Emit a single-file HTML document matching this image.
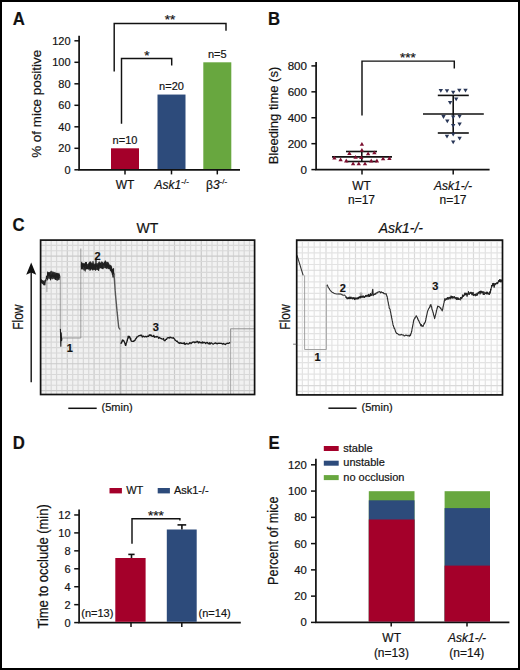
<!DOCTYPE html>
<html><head><meta charset="utf-8"><style>
html,body{margin:0;padding:0;background:#fff;}
svg{display:block;font-family:"Liberation Sans", sans-serif;}
text{stroke:#1a1a1a;stroke-width:0.2px;}
</style></head><body>
<svg width="520" height="670" viewBox="0 0 520 670">
<rect x="0" y="0" width="520" height="670" fill="#fff"/>
<text transform="translate(12.8,25.3) scale(0.93,1)" font-size="18" font-weight="bold" fill="#111">A</text>
<path d="M79.1,35.8 V169.8 H240" fill="none" stroke="#111" stroke-width="1.7" />
<line x1="74.4" y1="169.8" x2="79.1" y2="169.8" stroke="#111" stroke-width="1.5"/>
<text x="70.6" y="173.7" font-size="11" text-anchor="end" font-weight="normal" font-style="normal" fill="#111" >0</text>
<line x1="74.4" y1="148.3" x2="79.1" y2="148.3" stroke="#111" stroke-width="1.5"/>
<text x="70.6" y="152.2" font-size="11" text-anchor="end" font-weight="normal" font-style="normal" fill="#111" >20</text>
<line x1="74.4" y1="126.8" x2="79.1" y2="126.8" stroke="#111" stroke-width="1.5"/>
<text x="70.6" y="130.7" font-size="11" text-anchor="end" font-weight="normal" font-style="normal" fill="#111" >40</text>
<line x1="74.4" y1="105.3" x2="79.1" y2="105.3" stroke="#111" stroke-width="1.5"/>
<text x="70.6" y="109.2" font-size="11" text-anchor="end" font-weight="normal" font-style="normal" fill="#111" >60</text>
<line x1="74.4" y1="83.8" x2="79.1" y2="83.8" stroke="#111" stroke-width="1.5"/>
<text x="70.6" y="87.7" font-size="11" text-anchor="end" font-weight="normal" font-style="normal" fill="#111" >80</text>
<line x1="74.4" y1="62.3" x2="79.1" y2="62.3" stroke="#111" stroke-width="1.5"/>
<text x="70.6" y="66.2" font-size="11" text-anchor="end" font-weight="normal" font-style="normal" fill="#111" >100</text>
<line x1="74.4" y1="40.8" x2="79.1" y2="40.8" stroke="#111" stroke-width="1.5"/>
<text x="70.6" y="44.7" font-size="11" text-anchor="end" font-weight="normal" font-style="normal" fill="#111" >120</text>
<rect x="111" y="148.3" width="28" height="20.7" fill="#a4002a"/>
<line x1="125" y1="169.8" x2="125" y2="174.4" stroke="#111" stroke-width="1.5"/>
<text x="125" y="143.9" font-size="11" text-anchor="middle" font-weight="normal" font-style="normal" fill="#111" >n=10</text>
<rect x="157.5" y="94.55" width="28" height="74.45" fill="#2d4b7b"/>
<line x1="171.5" y1="169.8" x2="171.5" y2="174.4" stroke="#111" stroke-width="1.5"/>
<text x="171.5" y="90.15" font-size="11" text-anchor="middle" font-weight="normal" font-style="normal" fill="#111" >n=20</text>
<rect x="203.3" y="62.3" width="28" height="106.7" fill="#68a73f"/>
<line x1="217.3" y1="169.8" x2="217.3" y2="174.4" stroke="#111" stroke-width="1.5"/>
<text x="217.3" y="57.9" font-size="11" text-anchor="middle" font-weight="normal" font-style="normal" fill="#111" >n=5</text>
<text x="125" y="189.2" font-size="12" text-anchor="middle" font-weight="normal" font-style="normal" fill="#111" >WT</text>
<text x="154.6" y="189.3" font-size="12" text-anchor="start" font-weight="normal" font-style="italic" fill="#111" >Ask1<tspan font-size="8" dy="-5.5" font-style="normal">-/-</tspan></text>
<text x="206" y="189.3" font-size="12" text-anchor="start" font-weight="normal" font-style="normal" fill="#111" >β<tspan font-style="italic">3</tspan><tspan font-size="8" dy="-5.5">-/-</tspan></text>
<path d="M114.2,71.4 V23.4 H226 V30.8" fill="none" stroke="#111" stroke-width="1.45" />
<path d="M121.5,123.8 V58.5 H171.7 V65.5" fill="none" stroke="#111" stroke-width="1.45" />
<text x="170" y="24" font-size="13.5" text-anchor="middle" font-weight="normal" font-style="normal" fill="#111" >**</text>
<text x="146.8" y="59.5" font-size="13.5" text-anchor="middle" font-weight="normal" font-style="normal" fill="#111" >*</text>
<text transform="translate(41,103.8) rotate(-90)" font-size="13.4" text-anchor="middle" fill="#111">% of mice positive</text>
<text transform="translate(268,25.4) scale(0.93,1)" font-size="18" font-weight="bold" fill="#111">B</text>
<path d="M316.1,62.1 V169.6 H489.6" fill="none" stroke="#111" stroke-width="1.7" />
<line x1="311.4" y1="169.6" x2="316.1" y2="169.6" stroke="#111" stroke-width="1.5"/>
<text x="307" y="173.6" font-size="11.6" text-anchor="end" font-weight="normal" font-style="normal" fill="#111" >0</text>
<line x1="311.4" y1="143.68" x2="316.1" y2="143.68" stroke="#111" stroke-width="1.5"/>
<text x="307" y="147.68" font-size="11.6" text-anchor="end" font-weight="normal" font-style="normal" fill="#111" >200</text>
<line x1="311.4" y1="117.75" x2="316.1" y2="117.75" stroke="#111" stroke-width="1.5"/>
<text x="307" y="121.75" font-size="11.6" text-anchor="end" font-weight="normal" font-style="normal" fill="#111" >400</text>
<line x1="311.4" y1="91.83" x2="316.1" y2="91.83" stroke="#111" stroke-width="1.5"/>
<text x="307" y="95.83" font-size="11.6" text-anchor="end" font-weight="normal" font-style="normal" fill="#111" >600</text>
<line x1="311.4" y1="65.9" x2="316.1" y2="65.9" stroke="#111" stroke-width="1.5"/>
<text x="307" y="69.9" font-size="11.6" text-anchor="end" font-weight="normal" font-style="normal" fill="#111" >800</text>
<line x1="362" y1="169.6" x2="362" y2="174.5" stroke="#111" stroke-width="1.5"/>
<line x1="453.2" y1="169.6" x2="453.2" y2="174.5" stroke="#111" stroke-width="1.5"/>
<text x="361.5" y="189.5" font-size="12" text-anchor="middle" font-weight="normal" font-style="normal" fill="#111" >WT</text>
<text x="361.5" y="203.5" font-size="12" text-anchor="middle" font-weight="normal" font-style="normal" fill="#111" >n=17</text>
<text x="453" y="189.5" font-size="12" text-anchor="middle" font-weight="normal" font-style="italic" fill="#111" >Ask1-/-</text>
<text x="453" y="203.5" font-size="12" text-anchor="middle" font-weight="normal" font-style="normal" fill="#111" >n=17</text>
<path d="M362,115.5 V61.1 H454.3 V68.5" fill="none" stroke="#111" stroke-width="1.45" />
<text x="408" y="62" font-size="13.5" text-anchor="middle" font-weight="normal" font-style="normal" fill="#111" >***</text>
<text transform="translate(278.4,115.5) rotate(-90)" font-size="13" text-anchor="middle" fill="#111">Bleeding time (s)</text>
<line x1="332" y1="156.9" x2="392" y2="156.9" stroke="#111" stroke-width="1.6"/>
<line x1="346" y1="151.5" x2="377" y2="151.5" stroke="#111" stroke-width="1.6"/>
<line x1="346" y1="161.5" x2="377" y2="161.5" stroke="#111" stroke-width="1.6"/>
<line x1="361.8" y1="151.5" x2="361.8" y2="161.5" stroke="#111" stroke-width="1.6"/>
<polygon points="359.7,145.8 364.1,145.8 361.9,142" fill="#7c0f2f"/>
<polygon points="359.7,151.8 364.1,151.8 361.9,148" fill="#7c0f2f"/>
<polygon points="347.2,154.9 351.6,154.9 349.4,151.1" fill="#7c0f2f"/>
<polygon points="365.9,155.3 370.3,155.3 368.1,151.5" fill="#7c0f2f"/>
<polygon points="372.2,154.3 376.6,154.3 374.4,150.5" fill="#7c0f2f"/>
<polygon points="353.4,158.7 357.8,158.7 355.6,154.9" fill="#7c0f2f"/>
<polygon points="332.2,159.55 336.6,159.55 334.4,155.75" fill="#7c0f2f"/>
<polygon points="338.4,161.2 342.8,161.2 340.6,157.4" fill="#7c0f2f"/>
<polygon points="344.05,162.4 348.45,162.4 346.25,158.6" fill="#7c0f2f"/>
<polygon points="359.05,159.05 363.45,159.05 361.25,155.25" fill="#7c0f2f"/>
<polygon points="369.05,162.4 373.45,162.4 371.25,158.6" fill="#7c0f2f"/>
<polygon points="374.7,162.4 379.1,162.4 376.9,158.6" fill="#7c0f2f"/>
<polygon points="380.9,160.3 385.3,160.3 383.1,156.5" fill="#7c0f2f"/>
<polygon points="387.2,159.9 391.6,159.9 389.4,156.1" fill="#7c0f2f"/>
<polygon points="350.9,165.3 355.3,165.3 353.1,161.5" fill="#7c0f2f"/>
<polygon points="356.55,165.3 360.95,165.3 358.75,161.5" fill="#7c0f2f"/>
<polygon points="362.8,165.3 367.2,165.3 365,161.5" fill="#7c0f2f"/>
<line x1="453.2" y1="95.4" x2="453.2" y2="133" stroke="#111" stroke-width="1.6"/>
<line x1="437.8" y1="95.4" x2="468.8" y2="95.4" stroke="#111" stroke-width="1.6"/>
<line x1="437.8" y1="133" x2="468.8" y2="133" stroke="#111" stroke-width="1.6"/>
<line x1="423" y1="114" x2="483.8" y2="114" stroke="#111" stroke-width="1.6"/>
<polygon points="438.6,89 443,89 440.8,92.8" fill="#283657"/>
<polygon points="444.8,89.3 449.2,89.3 447,93.1" fill="#283657"/>
<polygon points="451,90.8 455.4,90.8 453.2,94.6" fill="#283657"/>
<polygon points="457.1,88.7 461.5,88.7 459.3,92.5" fill="#283657"/>
<polygon points="463.3,88.7 467.7,88.7 465.5,92.5" fill="#283657"/>
<polygon points="454,97.4 458.4,97.4 456.2,101.2" fill="#283657"/>
<polygon points="447.9,101 452.3,101 450.1,104.8" fill="#283657"/>
<polygon points="441.3,115.1 445.7,115.1 443.5,118.9" fill="#283657"/>
<polygon points="451,115.4 455.4,115.4 453.2,119.2" fill="#283657"/>
<polygon points="457.4,114.8 461.8,114.8 459.6,118.6" fill="#283657"/>
<polygon points="445.1,119.4 449.5,119.4 447.3,123.2" fill="#283657"/>
<polygon points="457.4,122.5 461.8,122.5 459.6,126.3" fill="#283657"/>
<polygon points="451,124 455.4,124 453.2,127.8" fill="#283657"/>
<polygon points="451,132.8 455.4,132.8 453.2,136.6" fill="#283657"/>
<polygon points="444.8,134.8 449.2,134.8 447,138.6" fill="#283657"/>
<polygon points="457.4,136.7 461.8,136.7 459.6,140.5" fill="#283657"/>
<polygon points="451,140.5 455.4,140.5 453.2,144.3" fill="#283657"/>
<text transform="translate(12.5,231.3) scale(0.93,1)" font-size="18" font-weight="bold" fill="#111">C</text>
<text x="147.4" y="232.6" font-size="14" text-anchor="middle" font-weight="normal" font-style="normal" fill="#111" >WT</text>
<text x="400.8" y="233" font-size="14" text-anchor="middle" font-weight="normal" font-style="italic" fill="#111" >Ask1-/-</text>
<clipPath id="c1"><rect x="40.5" y="240" width="214" height="154.5"/></clipPath>
<g clip-path="url(#c1)">
<rect x="40.5" y="240" width="214" height="154.5" fill="#f1f1f1"/>
<line x1="40.5" y1="240" x2="40.5" y2="394.5" stroke="#cacaca" stroke-width="1.2"/>
<line x1="45.86" y1="240" x2="45.86" y2="394.5" stroke="#d8d8d8" stroke-width="1.2"/>
<line x1="51.22" y1="240" x2="51.22" y2="394.5" stroke="#d8d8d8" stroke-width="1.2"/>
<line x1="56.58" y1="240" x2="56.58" y2="394.5" stroke="#d8d8d8" stroke-width="1.2"/>
<line x1="61.94" y1="240" x2="61.94" y2="394.5" stroke="#d8d8d8" stroke-width="1.2"/>
<line x1="67.3" y1="240" x2="67.3" y2="394.5" stroke="#cacaca" stroke-width="1.2"/>
<line x1="72.66" y1="240" x2="72.66" y2="394.5" stroke="#d8d8d8" stroke-width="1.2"/>
<line x1="78.02" y1="240" x2="78.02" y2="394.5" stroke="#d8d8d8" stroke-width="1.2"/>
<line x1="83.38" y1="240" x2="83.38" y2="394.5" stroke="#d8d8d8" stroke-width="1.2"/>
<line x1="88.74" y1="240" x2="88.74" y2="394.5" stroke="#d8d8d8" stroke-width="1.2"/>
<line x1="94.1" y1="240" x2="94.1" y2="394.5" stroke="#cacaca" stroke-width="1.2"/>
<line x1="99.46" y1="240" x2="99.46" y2="394.5" stroke="#d8d8d8" stroke-width="1.2"/>
<line x1="104.82" y1="240" x2="104.82" y2="394.5" stroke="#d8d8d8" stroke-width="1.2"/>
<line x1="110.18" y1="240" x2="110.18" y2="394.5" stroke="#d8d8d8" stroke-width="1.2"/>
<line x1="115.54" y1="240" x2="115.54" y2="394.5" stroke="#d8d8d8" stroke-width="1.2"/>
<line x1="120.9" y1="240" x2="120.9" y2="394.5" stroke="#cacaca" stroke-width="1.2"/>
<line x1="126.26" y1="240" x2="126.26" y2="394.5" stroke="#d8d8d8" stroke-width="1.2"/>
<line x1="131.62" y1="240" x2="131.62" y2="394.5" stroke="#d8d8d8" stroke-width="1.2"/>
<line x1="136.98" y1="240" x2="136.98" y2="394.5" stroke="#d8d8d8" stroke-width="1.2"/>
<line x1="142.34" y1="240" x2="142.34" y2="394.5" stroke="#d8d8d8" stroke-width="1.2"/>
<line x1="147.7" y1="240" x2="147.7" y2="394.5" stroke="#cacaca" stroke-width="1.2"/>
<line x1="153.06" y1="240" x2="153.06" y2="394.5" stroke="#d8d8d8" stroke-width="1.2"/>
<line x1="158.42" y1="240" x2="158.42" y2="394.5" stroke="#d8d8d8" stroke-width="1.2"/>
<line x1="163.78" y1="240" x2="163.78" y2="394.5" stroke="#d8d8d8" stroke-width="1.2"/>
<line x1="169.14" y1="240" x2="169.14" y2="394.5" stroke="#d8d8d8" stroke-width="1.2"/>
<line x1="174.5" y1="240" x2="174.5" y2="394.5" stroke="#cacaca" stroke-width="1.2"/>
<line x1="179.86" y1="240" x2="179.86" y2="394.5" stroke="#d8d8d8" stroke-width="1.2"/>
<line x1="185.22" y1="240" x2="185.22" y2="394.5" stroke="#d8d8d8" stroke-width="1.2"/>
<line x1="190.58" y1="240" x2="190.58" y2="394.5" stroke="#d8d8d8" stroke-width="1.2"/>
<line x1="195.94" y1="240" x2="195.94" y2="394.5" stroke="#d8d8d8" stroke-width="1.2"/>
<line x1="201.3" y1="240" x2="201.3" y2="394.5" stroke="#cacaca" stroke-width="1.2"/>
<line x1="206.66" y1="240" x2="206.66" y2="394.5" stroke="#d8d8d8" stroke-width="1.2"/>
<line x1="212.02" y1="240" x2="212.02" y2="394.5" stroke="#d8d8d8" stroke-width="1.2"/>
<line x1="217.38" y1="240" x2="217.38" y2="394.5" stroke="#d8d8d8" stroke-width="1.2"/>
<line x1="222.74" y1="240" x2="222.74" y2="394.5" stroke="#d8d8d8" stroke-width="1.2"/>
<line x1="228.1" y1="240" x2="228.1" y2="394.5" stroke="#cacaca" stroke-width="1.2"/>
<line x1="233.46" y1="240" x2="233.46" y2="394.5" stroke="#d8d8d8" stroke-width="1.2"/>
<line x1="238.82" y1="240" x2="238.82" y2="394.5" stroke="#d8d8d8" stroke-width="1.2"/>
<line x1="244.18" y1="240" x2="244.18" y2="394.5" stroke="#d8d8d8" stroke-width="1.2"/>
<line x1="249.54" y1="240" x2="249.54" y2="394.5" stroke="#d8d8d8" stroke-width="1.2"/>
<line x1="40.5" y1="240" x2="254.5" y2="240" stroke="#d8d8d8" stroke-width="1.2"/>
<line x1="40.5" y1="245.38" x2="254.5" y2="245.38" stroke="#d8d8d8" stroke-width="1.2"/>
<line x1="40.5" y1="250.76" x2="254.5" y2="250.76" stroke="#d8d8d8" stroke-width="1.2"/>
<line x1="40.5" y1="256.14" x2="254.5" y2="256.14" stroke="#cacaca" stroke-width="1.2"/>
<line x1="40.5" y1="261.52" x2="254.5" y2="261.52" stroke="#d8d8d8" stroke-width="1.2"/>
<line x1="40.5" y1="266.9" x2="254.5" y2="266.9" stroke="#d8d8d8" stroke-width="1.2"/>
<line x1="40.5" y1="272.28" x2="254.5" y2="272.28" stroke="#d8d8d8" stroke-width="1.2"/>
<line x1="40.5" y1="277.66" x2="254.5" y2="277.66" stroke="#d8d8d8" stroke-width="1.2"/>
<line x1="40.5" y1="283.04" x2="254.5" y2="283.04" stroke="#cacaca" stroke-width="1.2"/>
<line x1="40.5" y1="288.42" x2="254.5" y2="288.42" stroke="#d8d8d8" stroke-width="1.2"/>
<line x1="40.5" y1="293.8" x2="254.5" y2="293.8" stroke="#d8d8d8" stroke-width="1.2"/>
<line x1="40.5" y1="299.18" x2="254.5" y2="299.18" stroke="#d8d8d8" stroke-width="1.2"/>
<line x1="40.5" y1="304.56" x2="254.5" y2="304.56" stroke="#d8d8d8" stroke-width="1.2"/>
<line x1="40.5" y1="309.94" x2="254.5" y2="309.94" stroke="#cacaca" stroke-width="1.2"/>
<line x1="40.5" y1="315.32" x2="254.5" y2="315.32" stroke="#d8d8d8" stroke-width="1.2"/>
<line x1="40.5" y1="320.7" x2="254.5" y2="320.7" stroke="#d8d8d8" stroke-width="1.2"/>
<line x1="40.5" y1="326.08" x2="254.5" y2="326.08" stroke="#d8d8d8" stroke-width="1.2"/>
<line x1="40.5" y1="331.46" x2="254.5" y2="331.46" stroke="#d8d8d8" stroke-width="1.2"/>
<line x1="40.5" y1="336.84" x2="254.5" y2="336.84" stroke="#cacaca" stroke-width="1.2"/>
<line x1="40.5" y1="342.22" x2="254.5" y2="342.22" stroke="#d8d8d8" stroke-width="1.2"/>
<line x1="40.5" y1="347.6" x2="254.5" y2="347.6" stroke="#d8d8d8" stroke-width="1.2"/>
<line x1="40.5" y1="352.98" x2="254.5" y2="352.98" stroke="#d8d8d8" stroke-width="1.2"/>
<line x1="40.5" y1="358.36" x2="254.5" y2="358.36" stroke="#d8d8d8" stroke-width="1.2"/>
<line x1="40.5" y1="363.74" x2="254.5" y2="363.74" stroke="#cacaca" stroke-width="1.2"/>
<line x1="40.5" y1="369.12" x2="254.5" y2="369.12" stroke="#d8d8d8" stroke-width="1.2"/>
<line x1="40.5" y1="374.5" x2="254.5" y2="374.5" stroke="#d8d8d8" stroke-width="1.2"/>
<line x1="40.5" y1="379.88" x2="254.5" y2="379.88" stroke="#d8d8d8" stroke-width="1.2"/>
<line x1="40.5" y1="385.26" x2="254.5" y2="385.26" stroke="#d8d8d8" stroke-width="1.2"/>
<line x1="40.5" y1="390.64" x2="254.5" y2="390.64" stroke="#cacaca" stroke-width="1.2"/>
</g>
<clipPath id="c2"><rect x="296.5" y="240" width="206.5" height="155"/></clipPath>
<g clip-path="url(#c2)">
<rect x="296.5" y="240" width="206.5" height="155" fill="#fdfdfd"/>
<line x1="296.5" y1="240" x2="296.5" y2="395" stroke="#d9d9d9" stroke-width="1.2"/>
<line x1="302.4" y1="240" x2="302.4" y2="395" stroke="#e3e3e3" stroke-width="1.2"/>
<line x1="308.3" y1="240" x2="308.3" y2="395" stroke="#e3e3e3" stroke-width="1.2"/>
<line x1="314.2" y1="240" x2="314.2" y2="395" stroke="#e3e3e3" stroke-width="1.2"/>
<line x1="320.1" y1="240" x2="320.1" y2="395" stroke="#e3e3e3" stroke-width="1.2"/>
<line x1="326" y1="240" x2="326" y2="395" stroke="#d9d9d9" stroke-width="1.2"/>
<line x1="331.9" y1="240" x2="331.9" y2="395" stroke="#e3e3e3" stroke-width="1.2"/>
<line x1="337.8" y1="240" x2="337.8" y2="395" stroke="#e3e3e3" stroke-width="1.2"/>
<line x1="343.7" y1="240" x2="343.7" y2="395" stroke="#e3e3e3" stroke-width="1.2"/>
<line x1="349.6" y1="240" x2="349.6" y2="395" stroke="#e3e3e3" stroke-width="1.2"/>
<line x1="355.5" y1="240" x2="355.5" y2="395" stroke="#d9d9d9" stroke-width="1.2"/>
<line x1="361.4" y1="240" x2="361.4" y2="395" stroke="#e3e3e3" stroke-width="1.2"/>
<line x1="367.3" y1="240" x2="367.3" y2="395" stroke="#e3e3e3" stroke-width="1.2"/>
<line x1="373.2" y1="240" x2="373.2" y2="395" stroke="#e3e3e3" stroke-width="1.2"/>
<line x1="379.1" y1="240" x2="379.1" y2="395" stroke="#e3e3e3" stroke-width="1.2"/>
<line x1="385" y1="240" x2="385" y2="395" stroke="#d9d9d9" stroke-width="1.2"/>
<line x1="390.9" y1="240" x2="390.9" y2="395" stroke="#e3e3e3" stroke-width="1.2"/>
<line x1="396.8" y1="240" x2="396.8" y2="395" stroke="#e3e3e3" stroke-width="1.2"/>
<line x1="402.7" y1="240" x2="402.7" y2="395" stroke="#e3e3e3" stroke-width="1.2"/>
<line x1="408.6" y1="240" x2="408.6" y2="395" stroke="#e3e3e3" stroke-width="1.2"/>
<line x1="414.5" y1="240" x2="414.5" y2="395" stroke="#d9d9d9" stroke-width="1.2"/>
<line x1="420.4" y1="240" x2="420.4" y2="395" stroke="#e3e3e3" stroke-width="1.2"/>
<line x1="426.3" y1="240" x2="426.3" y2="395" stroke="#e3e3e3" stroke-width="1.2"/>
<line x1="432.2" y1="240" x2="432.2" y2="395" stroke="#e3e3e3" stroke-width="1.2"/>
<line x1="438.1" y1="240" x2="438.1" y2="395" stroke="#e3e3e3" stroke-width="1.2"/>
<line x1="444" y1="240" x2="444" y2="395" stroke="#d9d9d9" stroke-width="1.2"/>
<line x1="449.9" y1="240" x2="449.9" y2="395" stroke="#e3e3e3" stroke-width="1.2"/>
<line x1="455.8" y1="240" x2="455.8" y2="395" stroke="#e3e3e3" stroke-width="1.2"/>
<line x1="461.7" y1="240" x2="461.7" y2="395" stroke="#e3e3e3" stroke-width="1.2"/>
<line x1="467.6" y1="240" x2="467.6" y2="395" stroke="#e3e3e3" stroke-width="1.2"/>
<line x1="473.5" y1="240" x2="473.5" y2="395" stroke="#d9d9d9" stroke-width="1.2"/>
<line x1="479.4" y1="240" x2="479.4" y2="395" stroke="#e3e3e3" stroke-width="1.2"/>
<line x1="485.3" y1="240" x2="485.3" y2="395" stroke="#e3e3e3" stroke-width="1.2"/>
<line x1="491.2" y1="240" x2="491.2" y2="395" stroke="#e3e3e3" stroke-width="1.2"/>
<line x1="497.1" y1="240" x2="497.1" y2="395" stroke="#e3e3e3" stroke-width="1.2"/>
<line x1="503" y1="240" x2="503" y2="395" stroke="#d9d9d9" stroke-width="1.2"/>
<line x1="296.5" y1="241.4" x2="503" y2="241.4" stroke="#d9d9d9" stroke-width="1.2"/>
<line x1="296.5" y1="247.17" x2="503" y2="247.17" stroke="#e3e3e3" stroke-width="1.2"/>
<line x1="296.5" y1="252.94" x2="503" y2="252.94" stroke="#e3e3e3" stroke-width="1.2"/>
<line x1="296.5" y1="258.71" x2="503" y2="258.71" stroke="#e3e3e3" stroke-width="1.2"/>
<line x1="296.5" y1="264.48" x2="503" y2="264.48" stroke="#e3e3e3" stroke-width="1.2"/>
<line x1="296.5" y1="270.25" x2="503" y2="270.25" stroke="#d9d9d9" stroke-width="1.2"/>
<line x1="296.5" y1="276.02" x2="503" y2="276.02" stroke="#e3e3e3" stroke-width="1.2"/>
<line x1="296.5" y1="281.79" x2="503" y2="281.79" stroke="#e3e3e3" stroke-width="1.2"/>
<line x1="296.5" y1="287.56" x2="503" y2="287.56" stroke="#e3e3e3" stroke-width="1.2"/>
<line x1="296.5" y1="293.33" x2="503" y2="293.33" stroke="#e3e3e3" stroke-width="1.2"/>
<line x1="296.5" y1="299.1" x2="503" y2="299.1" stroke="#d9d9d9" stroke-width="1.2"/>
<line x1="296.5" y1="304.87" x2="503" y2="304.87" stroke="#e3e3e3" stroke-width="1.2"/>
<line x1="296.5" y1="310.64" x2="503" y2="310.64" stroke="#e3e3e3" stroke-width="1.2"/>
<line x1="296.5" y1="316.41" x2="503" y2="316.41" stroke="#e3e3e3" stroke-width="1.2"/>
<line x1="296.5" y1="322.18" x2="503" y2="322.18" stroke="#e3e3e3" stroke-width="1.2"/>
<line x1="296.5" y1="327.95" x2="503" y2="327.95" stroke="#d9d9d9" stroke-width="1.2"/>
<line x1="296.5" y1="333.72" x2="503" y2="333.72" stroke="#e3e3e3" stroke-width="1.2"/>
<line x1="296.5" y1="339.49" x2="503" y2="339.49" stroke="#e3e3e3" stroke-width="1.2"/>
<line x1="296.5" y1="345.26" x2="503" y2="345.26" stroke="#e3e3e3" stroke-width="1.2"/>
<line x1="296.5" y1="351.03" x2="503" y2="351.03" stroke="#e3e3e3" stroke-width="1.2"/>
<line x1="296.5" y1="356.8" x2="503" y2="356.8" stroke="#d9d9d9" stroke-width="1.2"/>
<line x1="296.5" y1="362.57" x2="503" y2="362.57" stroke="#e3e3e3" stroke-width="1.2"/>
<line x1="296.5" y1="368.34" x2="503" y2="368.34" stroke="#e3e3e3" stroke-width="1.2"/>
<line x1="296.5" y1="374.11" x2="503" y2="374.11" stroke="#e3e3e3" stroke-width="1.2"/>
<line x1="296.5" y1="379.88" x2="503" y2="379.88" stroke="#e3e3e3" stroke-width="1.2"/>
<line x1="296.5" y1="385.65" x2="503" y2="385.65" stroke="#d9d9d9" stroke-width="1.2"/>
<line x1="296.5" y1="391.42" x2="503" y2="391.42" stroke="#e3e3e3" stroke-width="1.2"/>
</g>
<polygon points="41,279.14 41.75,279.24 42.5,280.46 43.35,280.43 44.2,280.73 44.65,280.75 45.1,279.73 45.55,279.04 46,277.73 46.33,277.14 46.67,275.79 47,274.62 47,278.82 46.67,279.61 46.33,280.69 46,282.02 45.55,282.46 45.1,283.72 44.65,284.18 44.2,285.52 43.35,285.26 42.5,284.12 41.75,283.73 41,282.75" fill="#555" stroke="none"/>
<polyline points="41,279.53 41.25,281.62 41.5,282.53 41.75,280.88 42,280.07 42.25,281.75 42.5,282.57 42.78,283.52 43.07,280.94 43.35,281.05 43.63,283.65 43.92,283.57 44.2,285.04 44.35,284.11 44.5,282.54 44.65,282.07 44.8,285.22 44.95,281.52 45.1,280.66 45.25,279.97 45.4,281.18 45.55,280.97 45.7,280.12 45.85,280.19 46,280.33 46.1,280.53 46.2,280.72 46.3,279.35 46.4,276.65 46.5,279.34 46.6,276.5 46.7,277.69 46.8,275.83 46.9,277.3 47,276.07" fill="none" stroke="#1e1e1e" stroke-width="0.9" stroke-linejoin="round"/>
<line x1="46.9" y1="279" x2="46.9" y2="292" stroke="#999" stroke-width="0.9"/>
<polygon points="47,271.85 47.9,271.53 48.8,272.8 50.3,271.41 51.15,270.49 52,271.46 53.15,271.61 54.3,272.23 55.15,271.74 56,273.29 57,272.69 58,274.06 58.9,273.16 59.8,273.45 59.8,279.81 58.9,279.81 58,280.59 57,280.75 56,280 55.15,278.96 54.3,279.52 53.15,278.61 52,279.64 51.15,278.54 50.3,279.84 48.8,278.22 47.9,279.89 47,280.77" fill="#333" stroke="none"/>
<polyline points="47,278.58 47.2,278.79 47.4,275.91 47.6,274.14 47.8,273.37 48,275.51 48.2,273.29 48.4,272.35 48.6,275.51 48.8,275.27 49.01,276.16 49.23,273.31 49.44,275.22 49.66,275.16 49.87,272.35 50.09,276.5 50.3,276.14 50.51,280.22 50.72,275.78 50.94,275.02 51.15,277.72 51.36,275.59 51.58,276.94 51.79,274.33 52,275.44 52.23,277.1 52.46,276.49 52.69,275.41 52.92,273.04 53.15,276.14 53.38,275.45 53.61,276.79 53.84,275.83 54.07,277.63 54.3,275.4 54.51,275.97 54.72,276.96 54.94,273.51 55.15,274.95 55.36,274.81 55.58,279.84 55.79,275.75 56,277.3 56.22,277.24 56.44,275.44 56.67,272.9 56.89,277.93 57.11,275.19 57.33,277.44 57.56,273.39 57.78,275.12 58,278.51 58.2,278.97 58.4,273.62 58.6,273.67 58.8,276.36 59,278.01 59.2,276.99 59.4,277.38 59.6,274.91 59.8,278.17" fill="none" stroke="#1e1e1e" stroke-width="0.9" stroke-linejoin="round"/>
<line x1="60.3" y1="276" x2="60.3" y2="330" stroke="#888" stroke-width="0.8"/>
<polyline points="60.4,329.7 60.41,329.21 60.42,329.93 60.43,330.26 60.44,330.87 60.45,330.6 60.46,331.3 60.47,331.61 60.48,331.92 60.49,332.39 60.5,332.89 60.5,333.37 60.51,333.59 60.52,334.39 60.53,334.5 60.54,334.11 60.55,335.83 60.56,335.76 60.57,336.06 60.58,336.77 60.59,337.16 60.6,337.52 60.61,337.65 60.62,338.37 60.63,338.25 60.64,339.55 60.65,339.14 60.66,339.87 60.67,340.34 60.68,340.8 60.69,341.07 60.7,341.69 60.7,340.86 60.71,342.29 60.72,342.68 60.73,343 60.74,343.99 60.75,343.64 60.76,344.32 60.77,344.14 60.78,345.23 60.79,345.07 60.8,345.49 60.81,346.26 60.82,345.36 60.84,344.74 60.85,344.39 60.86,343.49 60.88,343.2 60.89,343.24 60.9,342.07 60.91,342.39 60.92,341.37 60.94,341.53 60.95,340.75 60.96,341.21 60.98,340.58 60.99,339.71 61,338.89 61.01,338.82 61.02,338.63 61.04,337.94 61.05,337.92 61.06,337.73 61.08,337.01 61.09,336.48 61.1,336.45 61.11,335.71 61.12,335.66 61.14,334.89 61.15,335.08 61.16,334.09 61.18,333.45 61.19,333.4 61.2,332.77 61.22,333.09 61.25,333.75 61.27,334.42 61.29,333.95 61.32,335.01 61.34,335.39 61.36,335.8 61.39,336.5 61.41,336.27 61.44,337.28 61.46,337.42 61.48,337.94 61.51,338.25 61.53,338.63 61.55,338.98 61.58,339.68 61.6,340.61 61.68,339.89 61.76,339.43 61.84,338.94 61.92,338.22 62,338.15" fill="none" stroke="#1a1a1a" stroke-width="1.1" stroke-linejoin="round"/>
<path d="M62,338 H80.8 V248.5" fill="none" stroke="#888" stroke-width="0.8" />
<polygon points="81.4,261.55 81.6,261.48 81.8,262.18 82,262.08 82.8,263.37 83.6,263.66 84.4,263.13 85.2,263.26 86,262.41 86.86,264.55 87.71,263.72 88.57,263.16 89.43,263.83 90.29,263.59 91.14,263.37 92,263.1 92.86,263.23 93.71,263.45 94.57,263.66 95.43,263.61 96.29,263.2 97.14,263.51 98,262.63 98.86,261.51 99.71,261.5 100.57,263.19 101.43,261.23 102.29,261.79 103.14,262.33 104,262.96 104.8,260.7 105.6,261.39 106.4,261.64 107.2,261.69 108,262.25 108.67,263.35 109.33,263.71 110,265.85 110.33,265.76 110.67,264.4 111,265.11 111.5,266.71 112,267.34 112.5,269.06 113,269.38 113.5,270.19 114,270.24 114,276.58 113.5,276.16 113,276.05 112.5,275.04 112,275.62 111.5,272.81 111,272.28 110.67,269.91 110.33,269.77 110,269.68 109.33,269.16 108.67,268.96 108,269.57 107.2,268.3 106.4,269.32 105.6,268.14 104.8,268.25 104,267.82 103.14,269.54 102.29,268.99 101.43,268.55 100.57,268.1 99.71,268.45 98.86,269.82 98,269.54 97.14,270.34 96.29,269.71 95.43,270.2 94.57,269.96 93.71,268.46 92.86,270.52 92,268.68 91.14,269.49 90.29,268.89 89.43,269.29 88.57,269.76 87.71,269.47 86.86,268.84 86,269.99 85.2,272.15 84.4,270.38 83.6,270.58 82.8,268.76 82,270.19 81.8,268.76 81.6,268.37 81.4,267.59" fill="#333" stroke="none"/>
<polyline points="81.4,264.2 81.45,266.83 81.5,262.46 81.55,266.71 81.6,264.29 81.65,264.49 81.7,269.24 81.75,265.79 81.8,265.58 81.85,267.41 81.9,268.45 81.95,266.23 82,267.73 82.2,264.47 82.4,265.76 82.6,265.62 82.8,263.76 83,263.41 83.2,263.17 83.4,266.1 83.6,266.26 83.8,265.96 84,266.8 84.2,263.86 84.4,266.51 84.6,267.2 84.8,268.29 85,264.95 85.2,265.9 85.4,262.52 85.6,265.71 85.8,262.17 86,263.82 86.2,269.1 86.4,262.16 86.6,268.45 86.8,267.45 87,266.09 87.2,267.7 87.4,267.84 87.6,268.92 87.8,266.23 88,265.46 88.2,265.42 88.4,264.61 88.6,266.58 88.8,265.01 89,268.89 89.2,262.71 89.4,264.33 89.6,264.62 89.8,262.21 90,270.59 90.2,261.53 90.4,265.99 90.6,265.47 90.8,270.04 91,262.38 91.2,268.79 91.4,264.99 91.6,266.19 91.8,265.1 92,267.84 92.2,264.09 92.4,266.3 92.6,267.19 92.8,270.3 93,261.37 93.2,269.6 93.4,268.37 93.6,265.35 93.8,266.99 94,265.35 94.2,269.77 94.4,266.74 94.6,265.83 94.8,265.79 95,265.83 95.2,265.86 95.4,264.37 95.6,270.52 95.8,262.17 96,258.59 96.2,265.89 96.4,265.83 96.6,266.9 96.8,265.67 97,265.77 97.2,266.76 97.4,268.08 97.6,265.09 97.8,265.23 98,270.08 98.2,267.1 98.4,263.9 98.6,270.83 98.8,267.56 99,264.68 99.2,263.43 99.4,266.51 99.6,264.12 99.8,263.63 100,263.11 100.2,264.75 100.4,268.13 100.6,264.87 100.8,262.72 101,267.15 101.2,265.87 101.4,267.49 101.6,268.22 101.8,265.33 102,265.36 102.2,265.55 102.4,263.25 102.6,267.02 102.8,268.48 103,265.95 103.2,265.07 103.4,265 103.6,263.89 103.8,263.83 104,264.66 104.2,263.73 104.4,264.58 104.6,262.19 104.8,266.24 105,265.6 105.2,263.08 105.4,260.67 105.6,265.48 105.8,267.82 106,263.96 106.2,264.49 106.4,264.31 106.6,266.87 106.8,263.58 107,267.57 107.2,264.86 107.4,267.44 107.6,265.57 107.8,265.01 108,262.4 108.17,264.18 108.33,265.2 108.5,267.26 108.67,266.51 108.83,264.66 109,267.11 109.17,268.45 109.33,266.19 109.5,265.7 109.67,265.92 109.83,268.58 110,268.13 110.08,265.24 110.15,268.17 110.23,266.57 110.31,266.19 110.38,270.56 110.46,269.88 110.54,266.82 110.62,268.71 110.69,269.78 110.77,267.58 110.85,268.86 110.92,270.71 111,265.74 111.12,270.35 111.25,271.38 111.38,271.06 111.5,267.35 111.62,271 111.75,268.69 111.88,271.86 112,272.1 112.12,271.45 112.25,269.56 112.38,270.09 112.5,273.29 112.62,269.78 112.75,272.87 112.88,273.07 113,271.58 113.12,277.36 113.25,272.65 113.38,277.17 113.5,268.6 113.62,268.29 113.75,275.23 113.88,274.67 114,272.84" fill="none" stroke="#1e1e1e" stroke-width="0.9" stroke-linejoin="round"/>
<polyline points="114,274.01 114.07,275.07 114.14,275.93 114.21,277.05 114.29,278.14 114.36,279.06 114.43,280.23 114.5,280.87 114.57,282.01 114.64,282.89 114.71,283.88 114.79,284.97 114.86,286.03 114.93,287.06 115,288.08 115.07,289.34 115.14,290.13 115.21,290.76 115.29,292.03 115.36,292.91 115.43,293.92 115.5,295.2 115.59,295.97 115.69,296.71 115.78,298.05 115.88,298.96 115.97,299.82 116.07,300.86 116.17,301.91 116.26,303 116.36,303.94 116.45,305.01 116.55,306.28 116.64,306.88 116.73,307.88 116.83,308.96 116.93,310.16 117.02,310.89 117.12,312.22 117.21,312.8 117.31,313.85 117.4,314.99 117.51,315.88 117.62,316.92 117.73,318.09 117.83,319.14 117.94,320.06 118.05,321.01 118.16,322.26 118.27,323.13 118.38,324.04 118.48,325.27 118.59,325.96 118.7,327.12 119.17,328.1 119.63,328.9 120.1,329.71" fill="none" stroke="#555" stroke-width="1.4" stroke-linejoin="round"/>
<line x1="120.2" y1="329" x2="120.2" y2="394" stroke="#aaa" stroke-width="0.8"/>
<polyline points="120.5,343.43 121.4,342.84 121.63,343 121.87,341.25 122.1,341.54 122.33,340.13 122.57,340.91 122.8,339.98 123.23,340.88 123.67,340.56 124.1,341.36 124.3,341.67 124.5,342.08 124.7,343.02 124.9,343.04 125.1,343.99 125.3,344.99 125.5,345.32 125.72,344.57 125.93,345.04 126.15,343.62 126.37,342.8 126.58,342.53 126.8,341.69 126.96,341.15 127.11,340.56 127.27,340.91 127.42,339.51 127.58,338.97 127.73,338.57 127.89,338.51 128.04,337.01 128.2,336.25 128.77,337.72 129.33,336.38 129.9,337.05 130.1,338.04 130.3,339.26 130.5,338.53 130.7,338.51 130.9,340.32 131.1,340.42 131.3,341.05 132.07,341.38 132.83,341.29 133.6,341.32 134.03,340.59 134.47,340.85 134.9,340.5 135.29,339.43 135.67,338.75 136.06,338.74 136.44,338.15 136.83,337.06 137.21,336.8 137.6,336.92 138.28,336.14 138.95,335.72 139.62,335.61 140.3,335.19 140.97,335.57 141.63,335.16 142.3,337 142.98,336.43 143.65,336.05 144.32,336.84 145,336.62 145.59,336.34 146.18,336.59 146.76,336.92 147.35,336.07 147.94,336.32 148.52,336.39 149.11,334.95 149.7,334.99 150.29,335.65 150.88,334.79 151.46,335.51 152.05,336.27 152.64,336.3 153.22,336.26 153.81,335.4 154.4,337.24 155,336.7 155.6,336.96 156.2,337.03 156.8,336.32 157.4,336.61 158,336.88 158.6,338.31 159.2,337.39 159.8,337.8 160.48,338.07 161.15,338.68 161.82,338.93 162.5,339.11 163,338.9 163.5,338.54 164,340.27 164.5,340.71 165,340.74 165.5,339.86 166,339.31 166.5,339.36 167.07,338.18 167.63,337.98 168.2,337.6 168.77,337.72 169.33,338.04 169.9,337.11 170.47,337.56 171.03,337.5 171.6,337.81 172.17,337.82 172.73,338.19 173.3,337.63 173.87,338.49 174.44,338.83 175.01,340.05 175.59,340.35 176.16,340.91 176.73,341.45 177.3,341.08 177.84,342.04 178.38,342.82 178.92,342.46 179.46,343.31 180,343.23 180.62,342.69 181.23,343.43 181.85,343.09 182.46,343.5 183.08,343.31 183.69,343.66 184.31,342.71 184.92,344.44 185.54,344.19 186.15,343.54 186.77,343.36 187.38,343.76 188,344.07 188.61,343.83 189.21,343.67 189.82,342.58 190.43,342.78 191.04,343.62 191.64,343.04 192.25,342.19 192.86,342.31 193.46,341.94 194.07,341.96 194.68,342.7 195.29,342 195.89,342.4 196.5,341.88 197.11,341.28 197.71,341.71 198.32,342.99 198.93,341.83 199.54,341.8 200.14,342.82 200.75,342.44 201.36,342.48 201.96,343.17 202.57,341.94 203.18,342.91 203.79,342.4 204.39,342.34 205,342.67 205.62,343.5 206.25,343.01 206.88,342.35 207.5,342.67 208.12,343.78 208.75,343.61 209.38,342.77 210,344.24 210.62,343.13 211.25,342.82 211.88,343.29 212.5,343.76 213.12,344.06 213.75,343.86 214.38,343.29 215,343.27 215.61,342.93 216.22,343.53 216.84,343.34 217.45,343.72 218.06,343.13 218.67,343.46 219.28,343.35 219.89,343.24 220.51,343.28 221.12,343.38 221.73,343.34 222.34,344.09 222.95,343.92 223.56,343.37 224.18,344.15 224.79,344.09 225.4,344.6 225.98,343.75 226.56,343.58 227.13,343.22 227.71,343.38 228.29,343.37 228.87,343.07 229.44,342.73 230.02,342.9 230.6,342.54" fill="none" stroke="#1a1a1a" stroke-width="1.3" stroke-linejoin="round"/>
<path d="M230.6,342.5 V328.8 H254" fill="none" stroke="#888" stroke-width="0.9" />
<line x1="230.6" y1="328.8" x2="230.6" y2="394" stroke="#999" stroke-width="0.8"/>
<text x="69.7" y="352.4" font-size="11" text-anchor="middle" font-weight="bold" font-style="normal" fill="#111" >1</text>
<text x="97.5" y="259.6" font-size="11" text-anchor="middle" font-weight="bold" font-style="normal" fill="#111" >2</text>
<text x="155.8" y="331.3" font-size="11" text-anchor="middle" font-weight="bold" font-style="normal" fill="#111" >3</text>
<path d="M297,255.4 L303.2,275.4" fill="none" stroke="#333" stroke-width="1.1" />
<path d="M304.6,275.4 V349.5 H326.3 V285" fill="none" stroke="#999" stroke-width="0.9" />
<polyline points="326.8,284.7 327.2,284.94 327.6,285.84 328,286.71 328.4,287.69 328.8,288.1 329.2,288.47 329.6,289.56 330,289.96 330.67,291.01 331.33,291.28 332,292.26 332.67,292.44 333.33,292.83 334,293.31 334.85,293.6 335.7,293.84 336.55,294.06 337.4,293.95 338.25,293.83 339.1,294.15 339.95,293.84 340.8,294.3 341.58,294.28 342.37,294.97 343.15,295.1 343.93,295.21 344.72,295.16 345.5,295.71" fill="none" stroke="#333" stroke-width="1.1" stroke-linejoin="round"/>
<polygon points="345.5,295.74 346.15,296.8 346.8,297.58 347.65,297.21 348.5,297.1 349.35,297.38 350.2,297.98 351.05,298.12 351.9,297.49 352.75,297.34 353.6,297.24 354.45,297.39 355.3,297.81 356.15,297.58 357,297.67 357.8,297.58 358.6,296.66 359.4,296.53 360.2,296.52 361,296.1 361.88,296.03 362.77,296.03 363.65,295.98 364.53,295.94 365.42,295.67 366.3,295.59 367.2,295.24 368.1,295.29 369,294.94 369.9,294.49 370.8,294.24 371.7,294.07 371.7,295.53 370.8,296.55 369.9,295.8 369,296.34 368.1,296.58 367.2,296.53 366.3,296.76 365.42,296.86 364.53,297.44 363.65,297.24 362.77,297.3 361.88,297.84 361,297.78 360.2,297.63 359.4,297.97 358.6,298.49 357.8,298.91 357,299.63 356.15,298.98 355.3,299.55 354.45,298.87 353.6,298.77 352.75,299.38 351.9,299.05 351.05,298.77 350.2,298.91 349.35,298.38 348.5,298.8 347.65,298.35 346.8,298.86 346.15,298.22 345.5,297.22" fill="#444" stroke="none"/>
<polyline points="345.5,296.32 345.76,297.16 346.02,296.94 346.28,297.18 346.54,297.05 346.8,297.85 347.15,298.8 347.5,298.33 347.86,298.78 348.21,298.24 348.56,298.36 348.91,298.23 349.26,296.95 349.61,298.74 349.97,298.51 350.32,298.52 350.67,297.01 351.02,296.99 351.37,297.6 351.72,297.91 352.08,298.47 352.43,298.24 352.78,298.66 353.13,297.86 353.48,298.54 353.83,298.62 354.19,297.9 354.54,299.58 354.89,298.79 355.24,299.25 355.59,298 355.94,297.93 356.3,298.22 356.65,298.41 357,298.94 357.33,298.55 357.67,297.94 358,297.46 358.33,297.64 358.67,298.73 359,297.18 359.33,297.8 359.67,297.8 360,296.33 360.33,297.28 360.67,298.04 361,295.59 361.35,296.72 361.71,296.82 362.06,296.27 362.41,297.13 362.77,296.69 363.12,295.65 363.47,297.21 363.83,297.04 364.18,297.18 364.53,297.48 364.89,296.67 365.24,296.44 365.59,295.4 365.95,296.68 366.3,295.77 366.66,295.8 367.02,295.15 367.38,295.28 367.74,295.51 368.1,296.7 368.46,294.3 368.82,294.62 369.18,295.73 369.54,296.49 369.9,295.8 370.26,293.99 370.62,293.48 370.98,295.41 371.34,294.56 371.7,294.22" fill="none" stroke="#1e1e1e" stroke-width="1.1" stroke-linejoin="round"/>
<polyline points="371.7,295.13 371.79,295.39 371.88,294.38 371.98,293.89 372.07,293.23 372.16,292.63 372.25,292.24 372.34,291.5 372.43,290.76 372.52,290.2 372.62,289.61 372.71,289.62 372.8,289.23 372.83,290.12 372.87,290.22 372.9,290.64 372.93,291.27 372.97,291.53 373,291.37 373.03,292.91 373.07,292.88 373.1,293.62 373.13,293.94 373.17,295.58 373.2,295.45 373.72,294.91 374.24,294.07 374.76,294.52 375.28,293.6 375.8,294.06 376.26,292.79 376.71,293.01 377.17,293.08 377.63,292.13 378.09,292.18 378.54,291.9 379,291.88 379.52,291.54 380.05,292.14 380.57,292.82 381.1,291.7 381.62,292.11 382.15,292.76 382.68,292.53 383.2,292.45 383.74,293.6 384.28,293.57 384.82,293.77 385.36,293.9 385.9,293.91 386.09,293.83 386.27,293.75 386.46,295.29 386.64,295.2 386.83,296.09 387.01,296.7 387.2,296.59 387.3,297.43 387.39,298.7 387.49,298.86 387.58,298.49 387.68,299.52 387.77,300.11 387.87,300.82 387.96,301.4 388.06,301.61 388.15,302.06 388.25,302.97 388.34,302.64 388.44,304.09 388.53,304.3 388.63,304.51 388.72,304.98 388.82,305.79 388.91,305.68 389.01,305.87 389.1,307.37 389.2,308.27 389.47,308.18 389.73,308.75 390,309.23 390.1,309.38 390.19,310.37 390.29,311.02 390.39,311.23 390.48,312.04 390.58,311.84 390.68,312.8 390.77,312.93 390.87,313.52 390.97,314.29 391.06,314.75 391.16,315.49 391.26,315.92 391.35,315.75 391.45,317.14 391.55,316.6 391.65,317.63 391.74,318.27 391.84,318.62 391.94,319.33 392.03,319.65 392.13,319.78 392.23,320.93 392.32,321.11 392.42,321.29 392.52,322.14 392.61,322.61 392.71,323.23 392.81,323.4 392.9,324.17 393,324.54 393.19,325.67 393.38,325.46 393.56,326.54 393.75,326.55 393.94,327.48 394.13,328.4 394.32,327.92 394.51,328.61 394.69,328.72 394.88,329.29 395.07,329.84 395.26,330.56 395.45,331.36 395.64,331.84 395.82,331.84 396.01,332.56 396.2,332.48 396.66,333.53 397.12,333.55 397.58,333.57 398.04,334.02 398.5,334.8 399.03,334.7 399.56,334.95 400.09,334.63 400.62,334.9 401.15,334.82 401.68,334.43 402.22,334.97 402.75,335.04 403.28,334.91 403.81,335.5 404.34,336.04 404.87,335.85 405.4,335.41 405.91,335.02 406.42,335.4 406.93,335.27 407.44,335.59 407.96,335.99 408.47,335.58 408.98,335.13 409.49,336.15 410,335.72 410.21,335.7 410.43,334.42 410.64,335.13 410.86,333.32 411.07,333.32 411.29,333.08 411.5,331.38 411.59,331.53 411.68,330.75 411.78,331.43 411.87,330.58 411.96,329.5 412.05,328.73 412.14,328.23 412.24,328.42 412.33,327.59 412.42,327.51 412.51,326.7 412.6,325.79 412.7,326.55 412.79,325.59 412.88,324.67 412.97,324.31 413.06,324.4 413.16,323.74 413.25,322.51 413.34,322.98 413.43,321.75 413.52,321.68 413.62,320.55 413.71,320.25 413.8,320.28 414.04,319.11 414.28,319.11 414.52,318.77 414.76,317.92 415,318.22 415.24,317.48 415.48,316.73 415.72,316.68 415.96,316.35 416.2,315.84 416.45,315.87 416.7,316.72 416.95,317.09 417.2,317.08 417.45,317.86 417.7,319.22 417.91,318.68 418.11,319.59 418.32,320.48 418.53,320.21 418.73,320.8 418.94,320.99 419.15,321.9 419.35,321.75 419.56,322.8 419.77,322.81 419.97,323.68 420.18,323.41 420.39,324.09 420.59,325.27 420.8,325.61 421.35,324.52 421.9,326.34 422.45,325.71 423,326.51 423.24,326.09 423.48,325.2 423.72,324.65 423.96,323.63 424.2,324.01 424.44,324.04 424.68,322.46 424.92,322.84 425.16,322.23 425.4,321.84 425.51,320.61 425.62,320.44 425.73,320.06 425.84,320.07 425.95,318.62 426.06,318.25 426.17,317.66 426.28,317.73 426.39,316.35 426.5,316.33 426.6,315.43 426.71,315.26 426.82,315.14 426.93,314.17 427.04,314.1 427.15,313.18 427.26,312.82 427.37,312.27 427.48,311.5 427.59,311.45 427.7,311.03 427.94,310.04 428.18,310.08 428.42,309.4 428.65,308.74 428.89,308.47 429.13,308.23 429.37,307.72 429.61,307.51 429.85,306.6 430.08,306.1 430.32,305.02 430.56,304.88 430.8,304.8 430.94,304.68 431.07,305.23 431.21,306.68 431.35,306.49 431.49,306.61 431.62,306.73 431.76,307.65 431.9,309.26 432.04,308.92 432.18,309.62 432.31,310.12 432.45,310.2 432.59,310.97 432.73,311.35 432.86,311.7 433,312.65 433.13,312.51 433.27,313.06 433.4,313.61 433.53,314.79 433.67,314.7 433.8,316.03 433.93,315.44 434.07,316.08 434.2,316.01 434.33,317.13 434.47,318.01 434.6,318.74 434.72,317.65 434.85,317.33 434.97,317.52 435.1,316.35 435.22,316.07 435.34,315.76 435.47,314.71 435.59,314.99 435.72,314 435.84,313.85 435.96,312.98 436.09,312.68 436.21,312.52 436.34,311.68 436.46,310.47 436.58,310.52 436.71,309.99 436.83,309.57 436.96,309.21 437.08,308.08 437.2,308.78 437.33,307.37 437.45,307.63 437.58,306.55 437.7,306.07 438.27,306.35 438.85,306.47 439.43,306.98 440,307.42 440.29,308.1 440.57,308.6 440.86,307.98 441.15,309.12 441.44,309.54 441.73,309.81 442.01,310.42 442.3,310.8 442.4,309.88 442.51,309.49 442.61,309.62 442.72,308.75 442.82,308.76 442.93,307.61 443.03,307.06 443.13,306.8 443.24,306.29 443.34,306.09 443.45,305.06 443.55,305.03 443.66,304.36 443.76,303.42 443.87,303.17 443.97,302.66 444.07,302.58 444.18,302.15 444.28,301.45 444.39,300.52 444.49,300.46 444.6,299.76 444.7,298.99" fill="none" stroke="#2a2a2a" stroke-width="1.1" stroke-linejoin="round"/>
<polygon points="444.7,298.15 445.52,298.38 446.35,297.72 447.18,297.64 448,296.72 448.79,297.31 449.57,296.79 450.36,296.81 451.14,296.85 451.93,296.25 452.71,296.3 453.5,296.8 454.34,296.79 455.18,297.28 456.01,297.26 456.85,296.94 457.69,297.34 458.52,297.7 459.36,298.21 460.2,298.69 460.8,297.55 461.4,296.57 462,296.74 462.6,296.19 463.2,295.85 463.8,294.57 464.4,293.84 465,293.11 465.6,292.65 466.5,292.79 467.4,293.41 468.3,292.72 469.2,292.16 470.1,292.5 471,291.31 471.8,292.7 472.6,293.42 473.4,293.16 474.2,293.89 475,293.83 475.77,293.39 476.54,292.79 477.31,292.7 478.09,292.18 478.86,291.37 479.63,291.39 480.4,290.47 481.3,290.4 482.2,291.34 483.1,291.19 484,291.2 484.9,292.05 485.8,292.22 486.6,292.03 487.4,292.11 488.2,292.83 489,292.22 489.8,292.83 490,292.21 490.2,290.95 490.4,290.22 490.6,289.51 490.8,289 491,287.56 491.2,286.98 491.4,286.23 491.6,285.81 491.8,284.94 492.58,284.42 493.37,284.65 494.15,283.21 494.93,283.12 495.72,283.29 496.5,282.6 497.18,282.34 497.86,281.81 498.54,280.2 499.22,280.33 499.9,279.2 500.95,279.78 502,280.5 502,281.69 500.95,281.4 499.9,281.7 499.22,281.83 498.54,282.78 497.86,284.2 497.18,284.03 496.5,283.99 495.72,284.94 494.93,285.42 494.15,285.46 493.37,286.3 492.58,286.56 491.8,286.86 491.6,287.37 491.4,288.08 491.2,288.99 491,289.63 490.8,290.24 490.6,291.17 490.4,292.25 490.2,293.62 490,294.28 489.8,295.03 489,294.78 488.2,294.43 487.4,294.61 486.6,294.16 485.8,294.06 484.9,294.06 484,293.4 483.1,293.83 482.2,293.25 481.3,293.47 480.4,292.59 479.63,293.17 478.86,293.85 478.09,294.5 477.31,295.42 476.54,295.19 475.77,296.49 475,296.32 474.2,295.6 473.4,295.26 472.6,294.87 471.8,294.12 471,293.7 470.1,294.06 469.2,294.65 468.3,294.7 467.4,294.81 466.5,295.11 465.6,294.96 465,295.39 464.4,295.95 463.8,296.64 463.2,296.79 462.6,297.38 462,298.61 461.4,299.22 460.8,300.17 460.2,300.85 459.36,299.37 458.52,299.88 457.69,299.57 456.85,299.28 456.01,298.64 455.18,299.01 454.34,298.55 453.5,298.35 452.71,298.38 451.93,298.07 451.14,298.88 450.36,299.44 449.57,299.17 448.79,299.42 448,299.29 447.18,300.28 446.35,299.37 445.52,300.16 444.7,300.01" fill="#444" stroke="none"/>
<polyline points="444.7,298.35 445.07,299.32 445.43,300.21 445.8,300.35 446.17,299.95 446.53,298.85 446.9,299.03 447.27,298.44 447.63,297.4 448,298.08 448.34,299.27 448.69,298.56 449.03,297.97 449.38,297.23 449.72,298.01 450.06,297.49 450.41,297.96 450.75,298.29 451.09,295.73 451.44,297.61 451.78,296.3 452.12,296.69 452.47,296.33 452.81,298.36 453.16,297.88 453.5,297.65 453.85,296.64 454.21,296.12 454.56,297.18 454.91,297.8 455.26,297.66 455.62,298.45 455.97,297.62 456.32,299.65 456.67,298.73 457.03,300.04 457.38,298.58 457.73,298.26 458.08,297.81 458.44,299.4 458.79,299.72 459.14,299.02 459.49,299.35 459.85,298.85 460.2,298.82 460.46,298.68 460.71,297 460.97,297.52 461.23,298.21 461.49,298.03 461.74,298.63 462,297.96 462.26,297.52 462.51,296.93 462.77,294.6 463.03,296.41 463.29,295.32 463.54,296.29 463.8,295.34 464.06,295.04 464.31,294.6 464.57,294.56 464.83,292.81 465.09,292.88 465.34,295.14 465.6,294.18 465.96,293.36 466.32,293.4 466.68,293.34 467.04,296.54 467.4,294.06 467.76,293.55 468.12,292.91 468.48,291.36 468.84,293.54 469.2,294.63 469.56,294.19 469.92,293.55 470.28,292.73 470.64,292.17 471,293.26 471.33,292.99 471.67,292.5 472,295.17 472.33,293.02 472.67,293.54 473,292.05 473.33,295.88 473.67,294.38 474,294.62 474.33,295.11 474.67,294.27 475,294.63 475.3,295.26 475.6,294.07 475.9,294.91 476.2,295.52 476.5,294.93 476.8,295.32 477.1,294.83 477.4,295.24 477.7,293.75 478,293.68 478.3,292.13 478.6,292.76 478.9,292.09 479.2,292.48 479.5,291.42 479.8,292.45 480.1,294.29 480.4,291.09 480.76,292.4 481.12,292.54 481.48,291.41 481.84,291.9 482.2,291.79 482.56,292.75 482.92,291.87 483.28,294.87 483.64,293.4 484,293.75 484.36,294.75 484.72,294.14 485.08,292.91 485.44,293.42 485.8,293.22 486.16,293.48 486.53,294.17 486.89,291.57 487.25,291.91 487.62,293.17 487.98,293.92 488.35,293.13 488.71,293.45 489.07,294.67 489.44,294.34 489.8,293.69 489.89,293.14 489.97,291.77 490.06,293.18 490.15,292.49 490.23,291.18 490.32,292.13 490.41,291.01 490.5,290.68 490.58,289.16 490.67,291.09 490.76,289.26 490.84,289.86 490.93,289.44 491.02,288.38 491.1,288.48 491.19,287.98 491.28,287.61 491.37,287.66 491.45,286.56 491.54,287.4 491.63,286.54 491.71,285.04 491.8,286.11 492.14,285.23 492.47,285.86 492.81,283.19 493.14,285.44 493.48,282.96 493.81,284.43 494.15,287.55 494.49,285.11 494.82,285.31 495.16,283.58 495.49,283.05 495.83,283.84 496.16,284.13 496.5,283.52 496.76,282.74 497.02,282.31 497.28,282.49 497.55,284.06 497.81,282.35 498.07,281.76 498.33,281.61 498.59,280.73 498.85,280.14 499.12,281.24 499.38,282.06 499.64,281.05 499.9,279.11 500.25,281.82 500.6,280.8 500.95,282.36 501.3,280.64 501.65,279.65 502,281.17" fill="none" stroke="#1e1e1e" stroke-width="1.0" stroke-linejoin="round"/>
<circle cx="361" cy="293.8" r="1.6" fill="#aaa"/>
<text x="317.5" y="361.2" font-size="11" text-anchor="middle" font-weight="bold" font-style="normal" fill="#111" >1</text>
<text x="342.8" y="292" font-size="11" text-anchor="middle" font-weight="bold" font-style="normal" fill="#111" >2</text>
<text x="435.4" y="290.2" font-size="11" text-anchor="middle" font-weight="bold" font-style="normal" fill="#111" >3</text>
<rect x="40.6" y="240.1" width="214" height="154.4" fill="none" stroke="#111" stroke-width="1.7"/>
<rect x="296.7" y="240.1" width="205.8" height="154.8" fill="none" stroke="#111" stroke-width="1.7"/>
<line x1="293.1" y1="344.2" x2="296.5" y2="344.2" stroke="#555" stroke-width="0.8"/>
<line x1="31.2" y1="272" x2="31.2" y2="382.3" stroke="#111" stroke-width="1.4"/>
<polygon points="31.2,262.4 36.2,274.8 31.2,272.6 26.2,274.8" fill="#111"/>
<text transform="translate(22.6,317.2) rotate(-90) scale(1,1.24)" font-size="12" text-anchor="middle" fill="#111">Flow</text>
<text transform="translate(289.5,317) rotate(-90) scale(1,1.24)" font-size="12" text-anchor="middle" fill="#111">Flow</text>
<line x1="68.3" y1="408.3" x2="96.7" y2="408.3" stroke="#111" stroke-width="1.5"/>
<text x="101.6" y="411.4" font-size="11" text-anchor="start" font-weight="normal" font-style="normal" fill="#111" >(5min)</text>
<line x1="328.4" y1="408.2" x2="356.6" y2="408.2" stroke="#111" stroke-width="1.5"/>
<text x="361.5" y="411.3" font-size="11" text-anchor="start" font-weight="normal" font-style="normal" fill="#111" >(5min)</text>
<text transform="translate(12.7,448.5) scale(0.93,1)" font-size="18" font-weight="bold" fill="#111">D</text>
<rect x="109.5" y="488" width="12.4" height="5.4" fill="#a4002a"/>
<text x="126.2" y="493.8" font-size="11" text-anchor="start" font-weight="normal" font-style="normal" fill="#111" >WT</text>
<rect x="157.7" y="488" width="12.2" height="5.4" fill="#2d4b7b"/>
<text x="173.9" y="493.8" font-size="11" text-anchor="start" font-weight="normal" font-style="normal" fill="#111" >Ask1-/-</text>
<path d="M79.1,509.6 V622.6 H240.8" fill="none" stroke="#111" stroke-width="1.7" />
<line x1="74.2" y1="622.6" x2="79.1" y2="622.6" stroke="#111" stroke-width="1.5"/>
<text x="70.6" y="626.5" font-size="11" text-anchor="end" font-weight="normal" font-style="normal" fill="#111" >0</text>
<line x1="74.2" y1="604.66" x2="79.1" y2="604.66" stroke="#111" stroke-width="1.5"/>
<text x="70.6" y="608.56" font-size="11" text-anchor="end" font-weight="normal" font-style="normal" fill="#111" >2</text>
<line x1="74.2" y1="586.72" x2="79.1" y2="586.72" stroke="#111" stroke-width="1.5"/>
<text x="70.6" y="590.62" font-size="11" text-anchor="end" font-weight="normal" font-style="normal" fill="#111" >4</text>
<line x1="74.2" y1="568.78" x2="79.1" y2="568.78" stroke="#111" stroke-width="1.5"/>
<text x="70.6" y="572.68" font-size="11" text-anchor="end" font-weight="normal" font-style="normal" fill="#111" >6</text>
<line x1="74.2" y1="550.84" x2="79.1" y2="550.84" stroke="#111" stroke-width="1.5"/>
<text x="70.6" y="554.74" font-size="11" text-anchor="end" font-weight="normal" font-style="normal" fill="#111" >8</text>
<line x1="74.2" y1="532.9" x2="79.1" y2="532.9" stroke="#111" stroke-width="1.5"/>
<text x="70.6" y="536.8" font-size="11" text-anchor="end" font-weight="normal" font-style="normal" fill="#111" >10</text>
<line x1="74.2" y1="514.96" x2="79.1" y2="514.96" stroke="#111" stroke-width="1.5"/>
<text x="70.6" y="518.86" font-size="11" text-anchor="end" font-weight="normal" font-style="normal" fill="#111" >12</text>
<rect x="115.3" y="558" width="30.3" height="63.8" fill="#a4002a"/>
<rect x="166.8" y="529.5" width="29.9" height="92.3" fill="#2d4b7b"/>
<line x1="131.5" y1="558" x2="131.5" y2="554.4" stroke="#111" stroke-width="1.6"/>
<line x1="128.3" y1="554.4" x2="134.6" y2="554.4" stroke="#111" stroke-width="1.6"/>
<line x1="181.9" y1="529.5" x2="181.9" y2="524.9" stroke="#111" stroke-width="1.6"/>
<line x1="177.5" y1="524.9" x2="186.2" y2="524.9" stroke="#111" stroke-width="1.6"/>
<path d="M132,543.8 V518.8 H179.9 V520.5" fill="none" stroke="#111" stroke-width="1.45" />
<text x="156" y="519.5" font-size="13.5" text-anchor="middle" font-weight="normal" font-style="normal" fill="#111" >***</text>
<line x1="131" y1="622.6" x2="131" y2="627" stroke="#111" stroke-width="1.5"/>
<line x1="181.8" y1="622.6" x2="181.8" y2="627" stroke="#111" stroke-width="1.5"/>
<text x="81.3" y="617.3" font-size="11" text-anchor="start" font-weight="normal" font-style="normal" fill="#111" >(n=13)</text>
<text x="198.6" y="617.3" font-size="11" text-anchor="start" font-weight="normal" font-style="normal" fill="#111" >(n=14)</text>
<text transform="translate(48.4,566.4) rotate(-90) scale(1,1.16)" font-size="13" text-anchor="middle" fill="#111">Time to occlude (min)</text>
<text transform="translate(268.6,448.7) scale(0.93,1)" font-size="18" font-weight="bold" fill="#111">E</text>
<rect x="323.8" y="446" width="14.9" height="5" fill="#a4002a"/>
<text x="343.3" y="451.6" font-size="11" text-anchor="start" font-weight="normal" font-style="normal" fill="#111" >stable</text>
<rect x="323.8" y="460.7" width="14.9" height="5" fill="#2d4b7b"/>
<text x="343.3" y="466.1" font-size="11" text-anchor="start" font-weight="normal" font-style="normal" fill="#111" >unstable</text>
<rect x="323.8" y="475.1" width="14.9" height="5" fill="#68a73f"/>
<text x="343.3" y="480.5" font-size="11" text-anchor="start" font-weight="normal" font-style="normal" fill="#111" >no occlusion</text>
<path d="M315.9,458.8 V622.4 H509.4" fill="none" stroke="#111" stroke-width="1.7" />
<line x1="311" y1="622.4" x2="315.9" y2="622.4" stroke="#111" stroke-width="1.5"/>
<text x="306.9" y="626.3" font-size="11.3" text-anchor="end" font-weight="normal" font-style="normal" fill="#111" >0</text>
<line x1="311" y1="596.13" x2="315.9" y2="596.13" stroke="#111" stroke-width="1.5"/>
<text x="306.9" y="600.03" font-size="11.3" text-anchor="end" font-weight="normal" font-style="normal" fill="#111" >20</text>
<line x1="311" y1="569.87" x2="315.9" y2="569.87" stroke="#111" stroke-width="1.5"/>
<text x="306.9" y="573.77" font-size="11.3" text-anchor="end" font-weight="normal" font-style="normal" fill="#111" >40</text>
<line x1="311" y1="543.6" x2="315.9" y2="543.6" stroke="#111" stroke-width="1.5"/>
<text x="306.9" y="547.5" font-size="11.3" text-anchor="end" font-weight="normal" font-style="normal" fill="#111" >60</text>
<line x1="311" y1="517.33" x2="315.9" y2="517.33" stroke="#111" stroke-width="1.5"/>
<text x="306.9" y="521.23" font-size="11.3" text-anchor="end" font-weight="normal" font-style="normal" fill="#111" >80</text>
<line x1="311" y1="491.07" x2="315.9" y2="491.07" stroke="#111" stroke-width="1.5"/>
<text x="306.9" y="494.97" font-size="11.3" text-anchor="end" font-weight="normal" font-style="normal" fill="#111" >100</text>
<line x1="311" y1="464.8" x2="315.9" y2="464.8" stroke="#111" stroke-width="1.5"/>
<text x="306.9" y="468.7" font-size="11.3" text-anchor="end" font-weight="normal" font-style="normal" fill="#111" >120</text>
<rect x="368.8" y="491.2" width="45.7" height="130.4" fill="#68a73f"/>
<rect x="368.8" y="500.3" width="45.7" height="121.3" fill="#2d4b7b"/>
<rect x="368.8" y="519.5" width="45.7" height="102.1" fill="#a4002a"/>
<rect x="444.6" y="491.2" width="45.4" height="130.4" fill="#68a73f"/>
<rect x="444.6" y="508.1" width="45.4" height="113.5" fill="#2d4b7b"/>
<rect x="444.6" y="565.6" width="45.4" height="56" fill="#a4002a"/>
<line x1="391.2" y1="622.4" x2="391.2" y2="626.5" stroke="#111" stroke-width="1.5"/>
<line x1="467" y1="622.4" x2="467" y2="626.5" stroke="#111" stroke-width="1.5"/>
<text x="391.7" y="642" font-size="12" text-anchor="middle" font-weight="normal" font-style="normal" fill="#111" >WT</text>
<text x="391.4" y="656.6" font-size="12" text-anchor="middle" font-weight="normal" font-style="normal" fill="#111" >(n=13)</text>
<text x="467" y="642" font-size="12" text-anchor="middle" font-weight="normal" font-style="italic" fill="#111" >Ask1-/-</text>
<text x="466.8" y="656.6" font-size="12" text-anchor="middle" font-weight="normal" font-style="normal" fill="#111" >(n=14)</text>
<text transform="translate(278.3,540.7) rotate(-90) scale(1,1.12)" font-size="12.75" text-anchor="middle" fill="#111">Percent of mice</text>
<rect x="1" y="1" width="518" height="668" fill="none" stroke="#000" stroke-width="2"/>
</svg>
</body></html>
